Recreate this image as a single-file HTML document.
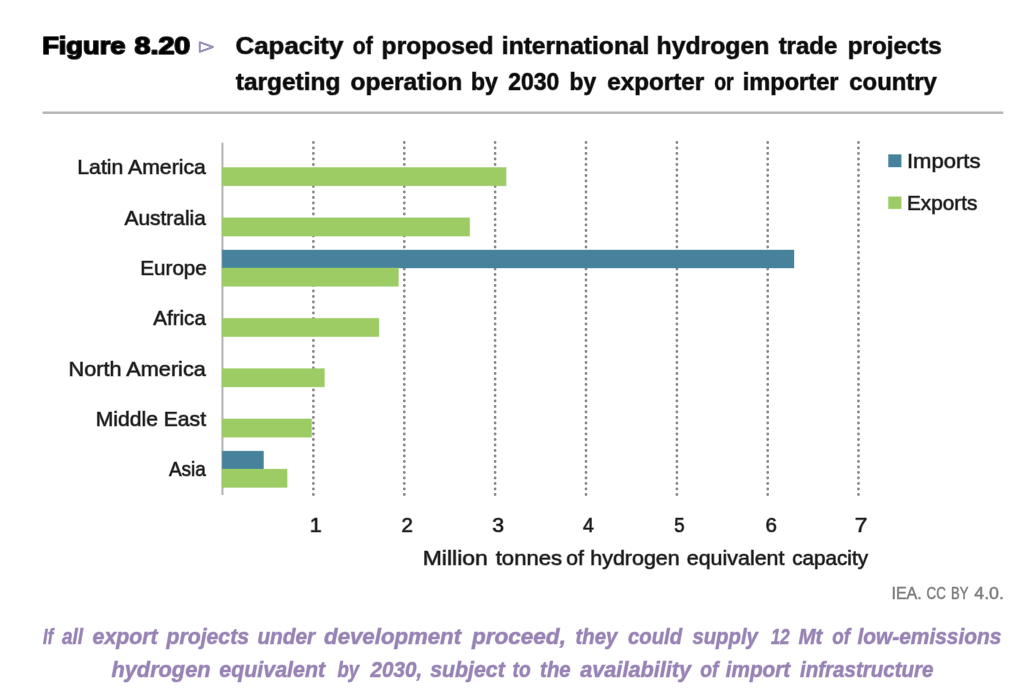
<!DOCTYPE html>
<html lang="en"><head><meta charset="utf-8"><title>Figure 8.20</title>
<style>html,body{margin:0;padding:0;background:#fff}body{width:1018px;height:692px;overflow:hidden}svg{display:block}text{font-family:"Liberation Sans",Arial,Helvetica,sans-serif;stroke-linejoin:round}</style>
</head><body>
<svg width="1018" height="692" viewBox="0 0 1018 692">
<g>
<rect width="1018" height="692" fill="#ffffff"/>
<text y="53.6" font-size="23" font-weight="bold" font-style="normal" fill="#000" stroke="#000" stroke-width="1.7" stroke-opacity="0.8"><tspan x="42.16" textLength="83.23" lengthAdjust="spacingAndGlyphs">Figure</tspan> <tspan x="134.44" textLength="55.90" lengthAdjust="spacingAndGlyphs">8.20</tspan></text>
<path d="M199.8 42.2 L213.0 47.0 L199.8 51.8 Z" fill="#fff" stroke="#9b8fb8" stroke-width="2" stroke-linejoin="round"/>
<text y="54.0" font-size="24" font-weight="bold" font-style="normal" fill="#0d0d0d" stroke="#0d0d0d" stroke-width="1.2" stroke-opacity="0.5"><tspan x="235.54" textLength="107.82" lengthAdjust="spacingAndGlyphs">Capacity</tspan> <tspan x="352.84" textLength="19.84" lengthAdjust="spacingAndGlyphs">of</tspan> <tspan x="381.62" textLength="112.02" lengthAdjust="spacingAndGlyphs">proposed</tspan> <tspan x="501.81" textLength="147.66" lengthAdjust="spacingAndGlyphs">international</tspan> <tspan x="656.51" textLength="112.83" lengthAdjust="spacingAndGlyphs">hydrogen</tspan> <tspan x="778.64" textLength="58.67" lengthAdjust="spacingAndGlyphs">trade</tspan> <tspan x="847.73" textLength="94.08" lengthAdjust="spacingAndGlyphs">projects</tspan></text>
<text y="90.0" font-size="24" font-weight="bold" font-style="normal" fill="#0d0d0d" stroke="#0d0d0d" stroke-width="1.2" stroke-opacity="0.5"><tspan x="235.74" textLength="104.69" lengthAdjust="spacingAndGlyphs">targeting</tspan> <tspan x="350.44" textLength="111.80" lengthAdjust="spacingAndGlyphs">operation</tspan> <tspan x="470.98" textLength="26.85" lengthAdjust="spacingAndGlyphs">by</tspan> <tspan x="508.34" textLength="50.95" lengthAdjust="spacingAndGlyphs">2030</tspan> <tspan x="569.49" textLength="26.55" lengthAdjust="spacingAndGlyphs">by</tspan> <tspan x="607.34" textLength="96.86" lengthAdjust="spacingAndGlyphs">exporter</tspan> <tspan x="714.14" textLength="19.50" lengthAdjust="spacingAndGlyphs">or</tspan> <tspan x="742.76" textLength="95.74" lengthAdjust="spacingAndGlyphs">importer</tspan> <tspan x="849.24" textLength="87.67" lengthAdjust="spacingAndGlyphs">country</tspan></text>
<rect x="42.5" y="111.5" width="960.8" height="2.4" fill="#b6b6b6"/>
<line x1="313.4" y1="142.5" x2="313.4" y2="495" stroke="#888888" stroke-width="2.8" stroke-linecap="round" stroke-dasharray="0 5.5"/>
<line x1="404.3" y1="142.5" x2="404.3" y2="495" stroke="#888888" stroke-width="2.8" stroke-linecap="round" stroke-dasharray="0 5.5"/>
<line x1="495.1" y1="142.5" x2="495.1" y2="495" stroke="#888888" stroke-width="2.8" stroke-linecap="round" stroke-dasharray="0 5.5"/>
<line x1="586.0" y1="142.5" x2="586.0" y2="495" stroke="#888888" stroke-width="2.8" stroke-linecap="round" stroke-dasharray="0 5.5"/>
<line x1="676.9" y1="142.5" x2="676.9" y2="495" stroke="#888888" stroke-width="2.8" stroke-linecap="round" stroke-dasharray="0 5.5"/>
<line x1="767.7" y1="142.5" x2="767.7" y2="495" stroke="#888888" stroke-width="2.8" stroke-linecap="round" stroke-dasharray="0 5.5"/>
<line x1="858.5" y1="142.5" x2="858.5" y2="495" stroke="#888888" stroke-width="2.8" stroke-linecap="round" stroke-dasharray="0 5.5"/>
<rect x="221.5" y="142.7" width="1.9" height="352.3" fill="#b0b0b0"/>
<rect x="222.2" y="167.5" width="283.9" height="18.3" fill="#9ccc63" stroke="#9ccc63" stroke-opacity="0.4"/>
<text y="174.4" font-size="21" font-weight="normal" font-style="normal" fill="#1a1a1a" stroke="#1a1a1a" stroke-width="1.2" stroke-opacity="0.5"><tspan x="77.34" textLength="128.50" lengthAdjust="spacingAndGlyphs">Latin America</tspan></text>
<rect x="222.2" y="217.8" width="247.5" height="18.3" fill="#9ccc63" stroke="#9ccc63" stroke-opacity="0.4"/>
<text y="224.7" font-size="21" font-weight="normal" font-style="normal" fill="#1a1a1a" stroke="#1a1a1a" stroke-width="1.2" stroke-opacity="0.5"><tspan x="124.54" textLength="81.30" lengthAdjust="spacingAndGlyphs">Australia</tspan></text>
<rect x="222.2" y="250.0" width="571.8" height="18.0" fill="#46829b" stroke="#46829b" stroke-opacity="0.4"/>
<rect x="222.2" y="268.0" width="176.2" height="18.3" fill="#9ccc63" stroke="#9ccc63" stroke-opacity="0.4"/>
<text y="274.9" font-size="21" font-weight="normal" font-style="normal" fill="#1a1a1a" stroke="#1a1a1a" stroke-width="1.2" stroke-opacity="0.5"><tspan x="140.26" textLength="66.57" lengthAdjust="spacingAndGlyphs">Europe</tspan></text>
<rect x="222.2" y="318.3" width="156.7" height="18.3" fill="#9ccc63" stroke="#9ccc63" stroke-opacity="0.4"/>
<text y="325.2" font-size="21" font-weight="normal" font-style="normal" fill="#1a1a1a" stroke="#1a1a1a" stroke-width="1.2" stroke-opacity="0.5"><tspan x="153.24" textLength="52.61" lengthAdjust="spacingAndGlyphs">Africa</tspan></text>
<rect x="222.2" y="368.6" width="102.2" height="18.3" fill="#9ccc63" stroke="#9ccc63" stroke-opacity="0.4"/>
<text y="375.5" font-size="21" font-weight="normal" font-style="normal" fill="#1a1a1a" stroke="#1a1a1a" stroke-width="1.2" stroke-opacity="0.5"><tspan x="68.52" textLength="137.31" lengthAdjust="spacingAndGlyphs">North America</tspan></text>
<rect x="222.2" y="418.9" width="89.4" height="18.3" fill="#9ccc63" stroke="#9ccc63" stroke-opacity="0.4"/>
<text y="425.8" font-size="21" font-weight="normal" font-style="normal" fill="#1a1a1a" stroke="#1a1a1a" stroke-width="1.2" stroke-opacity="0.5"><tspan x="95.74" textLength="110.26" lengthAdjust="spacingAndGlyphs">Middle East</tspan></text>
<rect x="222.2" y="451.1" width="41.3" height="18.0" fill="#46829b" stroke="#46829b" stroke-opacity="0.4"/>
<rect x="222.2" y="469.1" width="64.9" height="18.3" fill="#9ccc63" stroke="#9ccc63" stroke-opacity="0.4"/>
<text y="476.0" font-size="21" font-weight="normal" font-style="normal" fill="#1a1a1a" stroke="#1a1a1a" stroke-width="1.2" stroke-opacity="0.5"><tspan x="168.94" textLength="36.93" lengthAdjust="spacingAndGlyphs">Asia</tspan></text>
<text y="564.6" font-size="20.5" font-weight="normal" font-style="normal" fill="#1a1a1a" stroke="#1a1a1a" stroke-width="1.2" stroke-opacity="0.5"><tspan x="422.72" textLength="65.09" lengthAdjust="spacingAndGlyphs">Million</tspan> <tspan x="495.74" textLength="66.29" lengthAdjust="spacingAndGlyphs">tonnes</tspan> <tspan x="566.24" textLength="17.61" lengthAdjust="spacingAndGlyphs">of</tspan> <tspan x="590.29" textLength="89.39" lengthAdjust="spacingAndGlyphs">hydrogen</tspan> <tspan x="686.74" textLength="97.70" lengthAdjust="spacingAndGlyphs">equivalent</tspan> <tspan x="792.24" textLength="75.76" lengthAdjust="spacingAndGlyphs">capacity</tspan></text>
<text y="532.0" font-size="19.5" font-weight="normal" font-style="normal" fill="#1a1a1a" stroke="#1a1a1a" stroke-width="1.2" stroke-opacity="0.5"><tspan x="309.84" textLength="11.95" lengthAdjust="spacingAndGlyphs">1</tspan> <tspan x="401.54" textLength="11.41" lengthAdjust="spacingAndGlyphs">2</tspan> <tspan x="492.24" textLength="11.84" lengthAdjust="spacingAndGlyphs">3</tspan> <tspan x="583.04" textLength="10.86" lengthAdjust="spacingAndGlyphs">4</tspan> <tspan x="674.24" textLength="10.37" lengthAdjust="spacingAndGlyphs">5</tspan> <tspan x="765.54" textLength="11.41" lengthAdjust="spacingAndGlyphs">6</tspan> <tspan x="854.77" textLength="12.68" lengthAdjust="spacingAndGlyphs">7</tspan></text>
<rect x="888.5" y="154.6" width="12.7" height="12.4" fill="#46829b" stroke="#46829b" stroke-opacity="0.4"/>
<rect x="888.5" y="196.8" width="12.7" height="12.0" fill="#9ccc63" stroke="#9ccc63" stroke-opacity="0.4"/>
<text y="168.0" font-size="20.5" font-weight="normal" font-style="normal" fill="#1a1a1a" stroke="#1a1a1a" stroke-width="1.2" stroke-opacity="0.5"><tspan x="906.97" textLength="73.46" lengthAdjust="spacingAndGlyphs">Imports</tspan></text>
<text y="209.8" font-size="20.5" font-weight="normal" font-style="normal" fill="#1a1a1a" stroke="#1a1a1a" stroke-width="1.2" stroke-opacity="0.5"><tspan x="907.03" textLength="70.28" lengthAdjust="spacingAndGlyphs">Exports</tspan></text>
<text y="598.8" font-size="16" font-weight="normal" font-style="normal" fill="#7c7c7c" stroke="#7c7c7c" stroke-width="0.9" stroke-opacity="0.5"><tspan x="891.48" textLength="30.29" lengthAdjust="spacingAndGlyphs">IEA.</tspan> <tspan x="926.58" textLength="19.30" lengthAdjust="spacingAndGlyphs">CC</tspan> <tspan x="950.98" textLength="17.18" lengthAdjust="spacingAndGlyphs">BY</tspan> <tspan x="974.28" textLength="29.65" lengthAdjust="spacingAndGlyphs">4.0.</tspan></text>
<text y="644.3" font-size="22" font-weight="bold" font-style="italic" fill="#9883b5" stroke="#9883b5" stroke-width="1.1" stroke-opacity="0.5"><tspan x="43.12" textLength="10.06" lengthAdjust="spacingAndGlyphs">If</tspan> <tspan x="61.92" textLength="21.09" lengthAdjust="spacingAndGlyphs">all</tspan> <tspan x="92.62" textLength="65.04" lengthAdjust="spacingAndGlyphs">export</tspan> <tspan x="166.58" textLength="82.42" lengthAdjust="spacingAndGlyphs">projects</tspan> <tspan x="257.42" textLength="57.80" lengthAdjust="spacingAndGlyphs">under</tspan> <tspan x="324.12" textLength="136.97" lengthAdjust="spacingAndGlyphs">development</tspan> <tspan x="471.94" textLength="93.98" lengthAdjust="spacingAndGlyphs">proceed,</tspan> <tspan x="575.52" textLength="41.73" lengthAdjust="spacingAndGlyphs">they</tspan> <tspan x="628.02" textLength="54.04" lengthAdjust="spacingAndGlyphs">could</tspan> <tspan x="692.42" textLength="65.43" lengthAdjust="spacingAndGlyphs">supply</tspan> <tspan x="770.92" textLength="18.68" lengthAdjust="spacingAndGlyphs">12</tspan> <tspan x="798.42" textLength="23.99" lengthAdjust="spacingAndGlyphs">Mt</tspan> <tspan x="832.22" textLength="17.77" lengthAdjust="spacingAndGlyphs">of</tspan> <tspan x="857.42" textLength="143.98" lengthAdjust="spacingAndGlyphs">low-emissions</tspan></text>
<text y="676.6" font-size="22" font-weight="bold" font-style="italic" fill="#9883b5" stroke="#9883b5" stroke-width="1.1" stroke-opacity="0.5"><tspan x="111.52" textLength="98.99" lengthAdjust="spacingAndGlyphs">hydrogen</tspan> <tspan x="219.32" textLength="105.83" lengthAdjust="spacingAndGlyphs">equivalent</tspan> <tspan x="337.42" textLength="21.67" lengthAdjust="spacingAndGlyphs">by</tspan> <tspan x="370.56" textLength="51.57" lengthAdjust="spacingAndGlyphs">2030,</tspan> <tspan x="430.22" textLength="74.54" lengthAdjust="spacingAndGlyphs">subject</tspan> <tspan x="512.62" textLength="18.04" lengthAdjust="spacingAndGlyphs">to</tspan> <tspan x="540.12" textLength="30.48" lengthAdjust="spacingAndGlyphs">the</tspan> <tspan x="580.22" textLength="110.82" lengthAdjust="spacingAndGlyphs">availability</tspan> <tspan x="700.22" textLength="18.13" lengthAdjust="spacingAndGlyphs">of</tspan> <tspan x="725.82" textLength="64.39" lengthAdjust="spacingAndGlyphs">import</tspan> <tspan x="800.02" textLength="133.48" lengthAdjust="spacingAndGlyphs">infrastructure</tspan></text>
</g>
</svg>
</body></html>
